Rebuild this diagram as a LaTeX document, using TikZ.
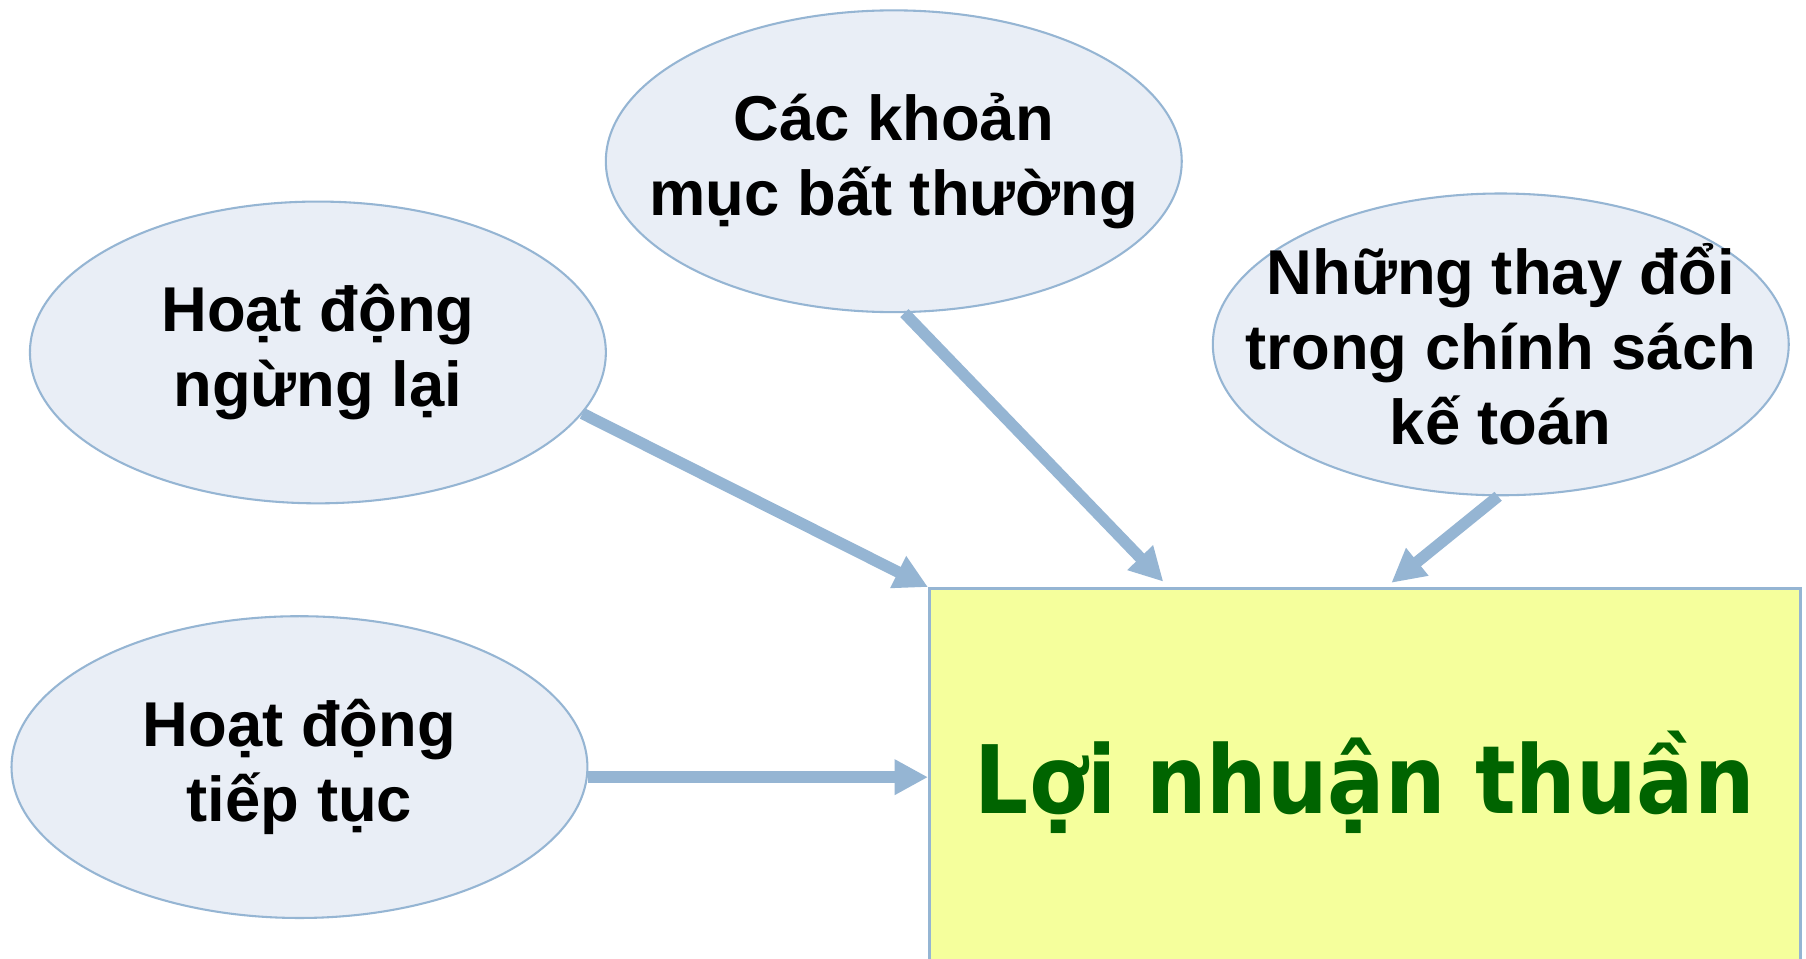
\documentclass[tikz,border=0pt]{standalone}
\usepackage{fontspec}
\setmainfont{Liberation Sans}
\newfontfamily\titlefont{DejaVu Sans}
\usetikzlibrary{shapes.geometric,arrows.meta}
\definecolor{ellfill}{HTML}{E9EEF6}
\definecolor{bluebord}{HTML}{95B5D3}
\definecolor{boxfill}{HTML}{F5FF9C}
\definecolor{darkgreen}{HTML}{006400}
\tikzset{
  oval/.style={ellipse, draw=bluebord, fill=ellfill, line width=1.8pt,
    minimum width=500pt, minimum height=262pt, inner sep=0pt},
  ovaltext/.style={align=center, inner sep=0pt,
    font=\fontsize{55}{65}\selectfont\bfseries},
  resultbox/.style={rectangle, draw=bluebord, fill=boxfill, line width=2.6pt,
    minimum width=756pt, minimum height=400pt, inner sep=0pt},
  titletext/.style={anchor=base, text=darkgreen, inner sep=0pt,
    font=\titlefont\fontsize{82}{90}\selectfont\bfseries},
  conn/.style={draw=bluebord, line width=10pt,
    -{Triangle[length=29pt, width=29pt]}}
}
\begin{document}
\begin{tikzpicture}[x=1pt,y=-1pt]
\useasboundingbox (0,0) rectangle (1568,832);
\clip (0,0) rectangle (1568,832);
\fill[white] (0,0) rectangle (1568,832);
\node[resultbox] (R) at (1185,711) {};
\node[titletext] (T) at (1185,706) {\scalebox{0.9}[1]{Lợi nhuận thuần}};
\node[oval, label={[ovaltext]center:{Hoạt động\\ngừng lại}}] (A) at (276,306) {};
\node[oval, label={[ovaltext]center:{Các khoản\\mục bất thường}}] (B) at (776,140) {};
\node[oval, label={[ovaltext]center:{Những thay đổi\\trong chính sách\\kế toán}}] (C) at (1303,299) {};
\node[oval, label={[ovaltext]center:{Hoạt động\\tiếp tục}}] (D) at (260,666) {};
\coordinate (t2) at (1010,505);
\coordinate (t3) at (1208,506);
\draw[conn] (A.-13) -- (R.north west);
\draw[conn] (B.-86) -- (t2);
\draw[conn] (C.-91) -- (t3);
\draw[conn] (D.-2) -- (D.-2 -| R.west);
\end{tikzpicture}
\end{document}
